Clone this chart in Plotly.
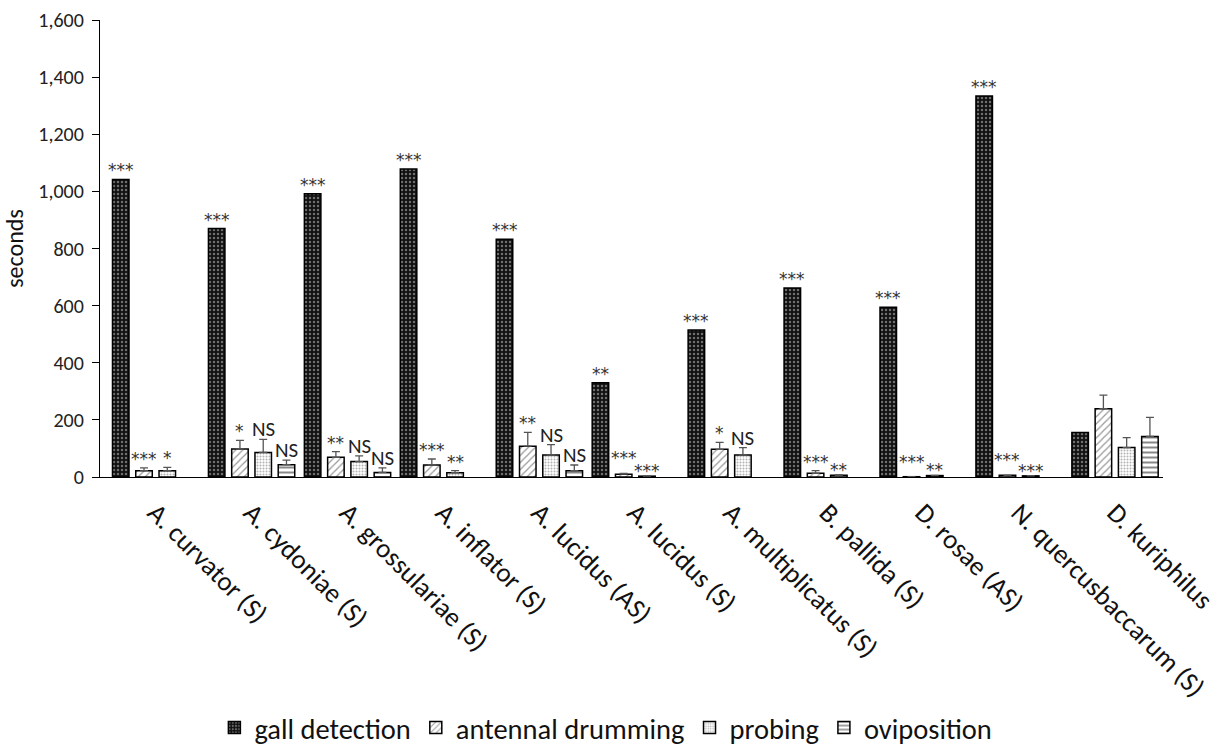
import plotly.graph_objects as go

categories = ["A. curvator (S)", "A. cydoniae (S)", "A. grossulariae (S)", "A. inflator (S)",
              "A. lucidus (AS)", "A. lucidus (S)", "A. multiplicatus (S)", "B. pallida (S)",
              "D. rosae (AS)", "N. quercusbaccarum (S)", "D. kuriphilus"]

gall_detection = [1042, 870, 992, 1078, 832, 330, 515, 662, 594, 1334, 156]
gall_err = [None] * 11
antennal_drumming = [22, 98, 69, 42, 108, 10, 97, 13, 1, 6, 239]
antennal_err = [10, 30, 20, 21, 48, 3, 24, 9, 0, 0, 48]
probing = [22, 86, 54, 15, 77, 3, 77, 6, 5, 4, 103]
probing_err = [12, 46, 20, 7, 36, 1, 26, 2, 1, 1, 35]
oviposition = [None, 43, 16, None, 22, None, None, None, None, None, 142]
oviposition_err = [None, 16, 16, None, 20, None, None, None, None, None, 67]

sig_gall = ["***", "***", "***", "***", "***", "**", "***", "***", "***", "***", ""]
sig_antennal = ["***", "*", "**", "***", "**", "***", "*", "***", "***", "***", ""]
sig_probing = ["*", "NS", "NS", "**", "NS", "***", "NS", "**", "**", "***", ""]
sig_oviposition = ["", "NS", "NS", "", "NS", "", "", "", "", "", ""]

series_names = ["gall detection", "antennal drumming", "probing", "oviposition"]

FONT = "Carlito, Lato, sans-serif"
STAR_FONT = "DejaVu Sans, sans-serif"
BARGAP = 0.03

series = [
    (series_names[0], gall_detection, gall_err, sig_gall,
     dict(shape=".", bgcolor="#111111", fgcolor="#cccccc", size=4, solidity=0.3)),
    (series_names[1], antennal_drumming, antennal_err, sig_antennal,
     dict(shape="/", bgcolor="white", fgcolor="#333333", size=5, solidity=0.25)),
    (series_names[2], probing, probing_err, sig_probing,
     dict(shape=".", bgcolor="white", fgcolor="#666666", size=3, solidity=0.35)),
    (series_names[3], oviposition, oviposition_err, sig_oviposition,
     dict(shape="-", bgcolor="white", fgcolor="#111111", size=5, solidity=0.4)),
]

fig = go.Figure()
for name, vals, errs, sigs, pat in series:
    fig.add_trace(go.Bar(
        name=name, x=categories, y=vals,
        marker=dict(color="white", line=dict(color="black", width=1.5), pattern=pat),
        error_y=dict(type="data", symmetric=False,
                     array=[e if e is not None else 0 for e in errs],
                     arrayminus=[0] * len(errs),
                     visible=any(e for e in errs if e is not None),
                     color="#555555", thickness=1.3, width=4),
    ))

slot = (1 - BARGAP) / 4
annotations = []
for k, (name, vals, errs, sigs, pat) in enumerate(series):
    for i, s in enumerate(sigs):
        if not s:
            continue
        v = vals[i] or 0
        e = errs[i] or 0
        is_star = "*" in s
        shift = 9 if is_star else 10
        # stagger neighbouring star labels on tiny bars, as in the original
        if is_star and k == 1 and (v + e) < 20:
            shift = 15
        if is_star and k == 2 and "*" in sig_antennal[i] and (v + e) < 20:
            shift = 5
        if is_star:
            fnt = dict(family=STAR_FONT, size=17, color="#333333")
        else:
            fnt = dict(family=FONT, size=21, color="#222222")
        annotations.append(dict(
            x=i + (k - 1.5) * slot, y=v + e, xref="x", yref="y",
            text=s, showarrow=False, yanchor="middle", yshift=shift, font=fnt,
        ))

fig.update_layout(
    width=1224, height=749,
    margin=dict(l=100, r=61, t=20, b=272, autoexpand=False),
    paper_bgcolor="white", plot_bgcolor="white",
    barmode="group", bargap=BARGAP, bargroupgap=0.29,
    font=dict(family=FONT, color="#222222"),
    annotations=annotations,
    showlegend=True,
    legend=dict(orientation="h", x=0.495, xanchor="center", xref="container",
                y=0.028, yanchor="middle", yref="container",
                font=dict(family=FONT, size=28.5, color="#111111"),
                traceorder="normal"),
)
fig.update_xaxes(
    type="category", range=[-0.58, 10.5],
    showline=True, linecolor="black", linewidth=1.2,
    ticks="", tickangle=45, ticklabelstandoff=8,
    tickfont=dict(family=FONT, size=27, color="#111111"),
    showgrid=False,
)
fig.update_yaxes(
    range=[0, 1600], dtick=200, tickformat=",",
    showline=True, linecolor="black", linewidth=1.2,
    ticks="outside", ticklen=7, tickcolor="black", ticklabelstandoff=4,
    tickfont=dict(family=FONT, size=20, color="#222222"),
    showgrid=False, zeroline=False,
    title=dict(text="seconds", font=dict(family=FONT, size=24, color="#111111"), standoff=14),
)

fig.write_html("out.html", config={"displayModeBar": False},
               post_script="document.body.style.margin='0';document.body.style.overflow='hidden';")
